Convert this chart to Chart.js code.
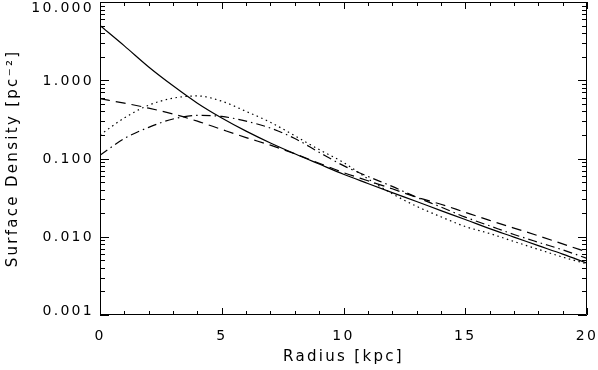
<!DOCTYPE html>
<html>
<head>
<meta charset="utf-8">
<script src="https://cdn.jsdelivr.net/npm/chart.js@4/dist/chart.umd.min.js"></script>
<style>
  html, body { margin: 0; padding: 0; background: #fff; }
  #chart { display: block; }
</style>
</head>
<body>
<canvas id="chart" width="598" height="370"></canvas>
<script>
// radius samples (kpc)
const radius = [0, 1, 2, 3, 4, 5, 6, 7, 8, 9, 10, 11, 12, 13, 14, 15, 16, 17, 18, 19, 20];

// surface density curves (pc^-2)
const solidCurve   = [5.0, 2.75, 1.48, 0.85, 0.51, 0.33, 0.224, 0.158, 0.115, 0.085, 0.063, 0.048, 0.0367, 0.0282, 0.0216, 0.0166, 0.0127, 0.0099, 0.0077, 0.0060, 0.0046];
const dashedCurve  = [0.58, 0.51, 0.44, 0.37, 0.30, 0.235, 0.185, 0.148, 0.115, 0.087, 0.066, 0.052, 0.041, 0.032, 0.026, 0.0205, 0.0162, 0.0129, 0.0103, 0.0081, 0.0064];
const dottedCurve  = [0.20, 0.33, 0.48, 0.59, 0.63, 0.54, 0.40, 0.29, 0.195, 0.13, 0.089, 0.055, 0.0355, 0.0245, 0.018, 0.0135, 0.011, 0.0087, 0.0069, 0.0055, 0.0045];
const dashDotCurve = [0.11, 0.18, 0.25, 0.32, 0.355, 0.345, 0.30, 0.245, 0.18, 0.12, 0.081, 0.059, 0.044, 0.032, 0.024, 0.0178, 0.0138, 0.0107, 0.0085, 0.0068, 0.0053];

// tick labels
const xTicks = [0, 5, 10, 15, 20];
const yTicks = [0.001, 0.01, 0.1, 1, 10];
const yMinor = [2, 3, 4, 5, 6, 7, 8, 9];

const FONT = "'DejaVu Sans', 'Liberation Sans', sans-serif";

function series(vals, dash) {
  return {
    data: radius.map((r, i) => ({ x: r, y: vals[i] })),
    borderColor: "#000",
    borderWidth: 1.2,
    borderDash: dash,
    pointRadius: 0,
    fill: false,
    cubicInterpolationMode: "monotone"
  };
}

// wide lettering like the original plot font
const spacing = {
  id: "spacing",
  beforeUpdate(chart) { chart.ctx.letterSpacing = "2.3px"; },
  beforeDraw(chart) { chart.ctx.letterSpacing = "2.3px"; }
};

// inside tick marks on all four sides, the box, and y labels kept inside the axis range
const frameTicks = {
  id: "frameTicks",
  afterDraw(chart) {
    const ctx = chart.ctx;
    const { left, right, top, bottom } = chart.chartArea;
    const xs = chart.scales.x, ys = chart.scales.y;
    ctx.save();
    ctx.strokeStyle = "#000";
    ctx.lineWidth = 1;
    ctx.beginPath();
    ctx.rect(left + 0.5, top + 0.5, right - left - 1, bottom - top - 1);
    for (let v = 0; v <= 20; v++) {
      const px = Math.round(xs.getPixelForValue(v)) + 0.5;
      const len = v % 5 === 0 ? 7 : 4;
      ctx.moveTo(px, bottom); ctx.lineTo(px, bottom - len);
      ctx.moveTo(px, top); ctx.lineTo(px, top + len);
    }
    yTicks.forEach((d, i) => {
      let py = Math.round(ys.getPixelForValue(d)) + 0.5;
      ctx.moveTo(left, py); ctx.lineTo(left + 9, py);
      ctx.moveTo(right, py); ctx.lineTo(right - 9, py);
      if (i < yTicks.length - 1) {
        yMinor.forEach(m => {
          py = Math.round(ys.getPixelForValue(d * m)) + 0.5;
          ctx.moveTo(left, py); ctx.lineTo(left + 5, py);
          ctx.moveTo(right, py); ctx.lineTo(right - 5, py);
        });
      }
    });
    ctx.stroke();

    ctx.fillStyle = "#000";
    ctx.font = "14px " + FONT;
    ctx.letterSpacing = "2.3px";
    ctx.textAlign = "right";
    ctx.textBaseline = "middle";
    yTicks.forEach(d => {
      const py = ys.getPixelForValue(d) + 1;
      const cy = Math.min(Math.max(py, top + 6), bottom - 4);
      ctx.fillText(d.toFixed(3), left - 6, cy);
    });
    ctx.restore();
  }
};

new Chart(document.getElementById("chart"), {
  type: "line",
  data: {
    datasets: [
      series(solidCurve, []),
      series(dashedCurve, [10, 6]),
      series(dottedCurve, [1.5, 3.5]),
      series(dashDotCurve, [9, 4, 1.5, 4])
    ]
  },
  options: {
    responsive: false,
    devicePixelRatio: 1,
    animation: false,
    layout: { padding: { top: 2, right: 11, left: 0, bottom: 0 } },
    plugins: { legend: { display: false }, tooltip: { enabled: false } },
    scales: {
      x: {
        type: "linear",
        min: 0, max: 20,
        afterBuildTicks: s => { s.ticks = xTicks.map(v => ({ value: v })); },
        afterFit: s => { s.height = 55; s.paddingLeft = 0; s.paddingRight = 0; },
        grid: { display: false, drawTicks: false },
        border: { display: false },
        ticks: { color: "#000", padding: 13, font: { family: FONT, size: 14 }, maxRotation: 0 },
        title: { display: true, text: "Radius [kpc]", color: "#000", padding: { top: 5 }, font: { family: FONT, size: 15 } }
      },
      y: {
        type: "logarithmic",
        min: 0.001, max: 10,
        afterBuildTicks: s => { s.ticks = yTicks.map(v => ({ value: v })); },
        afterFit: s => { s.width = 100; s.paddingTop = 0; s.paddingBottom = 0; },
        grid: { display: false, drawTicks: false },
        border: { display: false },
        ticks: { display: false },
        title: { display: true, text: "Surface Density [pc⁻²]", color: "#000", padding: { bottom: 0 }, font: { family: FONT, size: 15 } }
      }
    }
  },
  plugins: [spacing, frameTicks]
});
</script>
</body>
</html>
